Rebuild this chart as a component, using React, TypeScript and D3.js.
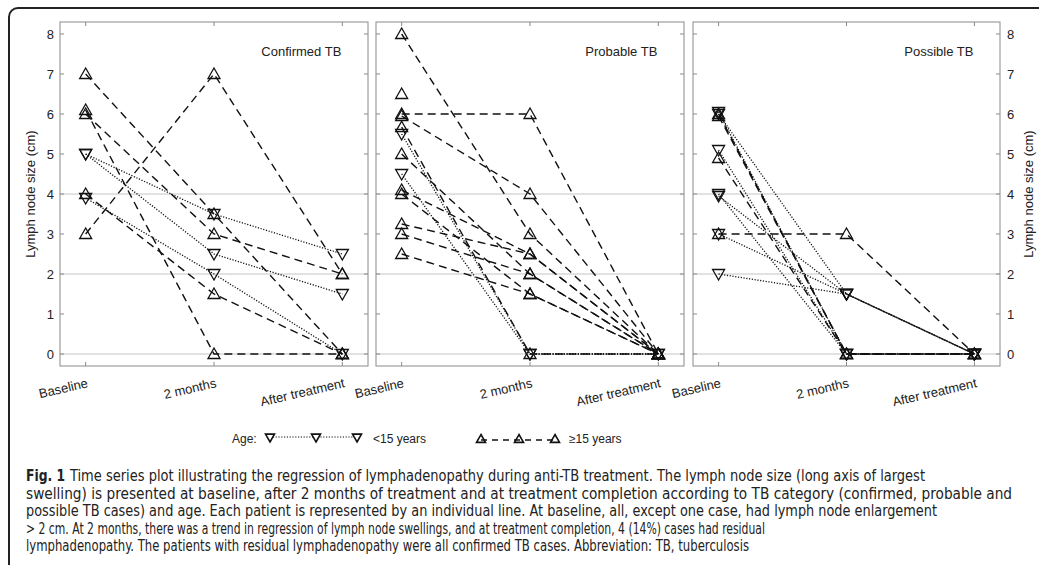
import React from "react";
import * as d3 from "d3";

// ---------- data ----------
const timepoints = ["Baseline", "2 months", "After treatment"];
const panelTitles = ["Confirmed TB", "Probable TB", "Possible TB"];
const yTicks = [0, 1, 2, 3, 4, 5, 6, 7, 8];
const gridValues = [0, 2, 4];

// each row = one patient: [baseline, 2 months, after treatment]
const confirmedValues: (number | null)[][] = [
  [3, 7, 2],
  [7, 3.5, 0],
  [6, 3, 2],
  [6.1, 0, 0],
  [5, 3.5, 2.5],
  [5, 2.5, 1.5],
  [4, 1.5, 0],
  [3.9, 2, 0],
];
const confirmedAge = [">=15", ">=15", ">=15", ">=15", "<15", "<15", ">=15", "<15"];

const probableValues: (number | null)[][] = [
  [8, 3, 0],
  [6.5, null, null],
  [6, 6, 0],
  [5.95, 4, 0],
  [5.67, 0, 0],
  [5.5, 0, 0],
  [5, 2, 0],
  [4.5, 0, 0],
  [4.1, 2.5, 0],
  [4, 1.5, 0],
  [3.25, 2.5, 0],
  [3, 2, 0],
  [2.5, 1.5, 0],
];
const probableAge = [">=15", ">=15", ">=15", ">=15", ">=15", "<15", ">=15", "<15", ">=15", ">=15", ">=15", ">=15", ">=15"];

const possibleValues: (number | null)[][] = [
  [6, 0, 0],
  [5.95, 0, 0],
  [4.9, 0, 0],
  [3, 3, 0],
  [6, 1.5, 0],
  [6.05, 0, 0],
  [5.1, 0, 0],
  [4, 0, 0],
  [3.95, 1.5, 0],
  [3, 1.5, 0],
  [2, 1.5, 0],
];
const possibleAge = [">=15", ">=15", ">=15", ">=15", "<15", "<15", "<15", "<15", "<15", "<15", "<15"];

const captionBold = "Fig. 1";
const captionLines = [
  "Time series plot illustrating the regression of lymphadenopathy during anti-TB treatment. The lymph node size (long axis of largest",
  "swelling) is presented at baseline, after 2 months of treatment and at treatment completion according to TB category (confirmed, probable and",
  "possible TB cases) and age. Each patient is represented by an individual line. At baseline, all, except one case, had lymph node enlargement",
  "> 2 cm. At 2 months, there was a trend in regression of lymph node swellings, and at treatment completion, 4 (14%) cases had residual",
  "lymphadenopathy. The patients with residual lymphadenopathy were all confirmed TB cases. Abbreviation: TB, tuberculosis",
];

// ---------- layout ----------
const W = 1039;
const H = 565;
const panelX: [number, number][] = [
  [60, 368],
  [376, 684],
  [693, 1000],
];
const plotTop = 22;
const plotBottom = 366;
const FONT = "'Liberation Sans', Arial, Helvetica, sans-serif";
const CAP_FONT = "'Liberation Sans Narrow', 'DejaVu Sans Condensed', 'Liberation Sans', sans-serif";
const INK = "#111";
const AXIS = "#8a8a8a";

const y = d3.scaleLinear().domain([-0.3, 8.3]).range([plotBottom, plotTop]);

const upTri = (cx: number, cy: number, s = 1) =>
  `M${cx},${cy - 6 * s}L${cx + 6 * s},${cy + 4.5 * s}L${cx - 6 * s},${cy + 4.5 * s}Z`;
const downTri = (cx: number, cy: number, s = 1) =>
  `M${cx},${cy + 6 * s}L${cx + 6 * s},${cy - 4.5 * s}L${cx - 6 * s},${cy - 4.5 * s}Z`;

const DASH = "8,5";
const DOT = "1.2,1.6";

function Panel({ idx, values, ages }: { idx: number; values: (number | null)[][]; ages: string[] }) {
  const [x0, x1] = panelX[idx];
  const x = d3.scaleLinear().domain([-0.2, 2.2]).range([x0, x1]);
  const line = d3
    .line<number | null>()
    .defined((d) => d !== null)
    .x((_, i) => x(i))
    .y((d) => y(d as number));
  return (
    <g>
      {gridValues.map((g) => (
        <line key={"g" + g} x1={x0} x2={x1} y1={y(g)} y2={y(g)} stroke="#c4c4c4" strokeWidth={1} />
      ))}
      <rect x={x0} y={plotTop} width={x1 - x0} height={plotBottom - plotTop} fill="none" stroke={AXIS} strokeWidth={1} />
      {yTicks.map((t) => (
        <g key={"t" + t}>
          <line x1={x0} x2={x0 + 4} y1={y(t)} y2={y(t)} stroke={AXIS} />
          <line x1={x1} x2={x1 - 4} y1={y(t)} y2={y(t)} stroke={AXIS} />
        </g>
      ))}
      {timepoints.map((tp, i) => (
        <g key={"x" + i}>
          <line x1={x(i)} x2={x(i)} y1={plotTop} y2={plotTop + 4} stroke={AXIS} />
          <line x1={x(i)} x2={x(i)} y1={plotBottom} y2={plotBottom - 4} stroke={AXIS} />
          <text
            transform={`translate(${x(i) + 3},${387}) rotate(-13)`}
            textAnchor="end"
            fontFamily={FONT}
            fontSize={13}
            fill="#222"
          >
            {tp}
          </text>
        </g>
      ))}
      {idx === 0 &&
        yTicks.map((t) => (
          <text key={"yl" + t} x={x0 - 6} y={y(t) + 4.5} textAnchor="end" fontFamily={FONT} fontSize={13} fill="#222">
            {t}
          </text>
        ))}
      {idx === 2 &&
        yTicks.map((t) => (
          <text key={"yr" + t} x={x1 + 7} y={y(t) + 4.5} textAnchor="start" fontFamily={FONT} fontSize={13} fill="#222">
            {t}
          </text>
        ))}
      <text x={x(2) - 1} y={56} textAnchor="end" fontFamily={FONT} fontSize={13} fill="#222">
        {panelTitles[idx]}
      </text>
      {values.map((v, p) => (
        <path
          key={"l" + p}
          d={line(v) || ""}
          fill="none"
          stroke={INK}
          strokeWidth={ages[p] === "<15" ? 1.3 : 1.4}
          strokeDasharray={ages[p] === "<15" ? DOT : DASH}
        />
      ))}
      {values.map((v, p) =>
        v.map((d, i) =>
          d === null ? null : (
            <path
              key={"m" + p + "-" + i}
              d={ages[p] === "<15" ? downTri(x(i), y(d)) : upTri(x(i), y(d))}
              fill="none"
              stroke={INK}
              strokeWidth={1.3}
            />
          )
        )
      )}
    </g>
  );
}

export default function App() {
  const captionEnds = [925, 1012, 937, 765, 749];
  const captionBase = [481, 498.5, 516, 533.5, 551];
  return (
    <svg width={W} height={H} style={{ position: "absolute", left: 0, top: 0, background: "#fff" }}>
      <rect x={9} y={8} width={1100} height={620} rx={9} fill="none" stroke="#222" strokeWidth={2} />
      <Panel idx={0} values={confirmedValues} ages={confirmedAge} />
      <Panel idx={1} values={probableValues} ages={probableAge} />
      <Panel idx={2} values={possibleValues} ages={possibleAge} />
      {/* y titles */}
      <text transform={`translate(35,${(plotTop + plotBottom) / 2}) rotate(-90)`} textAnchor="middle" fontFamily={FONT} fontSize={13} fill="#222">
        Lymph node size (cm)
      </text>
      <text transform={`translate(1033,${(plotTop + plotBottom) / 2}) rotate(-90)`} textAnchor="middle" fontFamily={FONT} fontSize={13} fill="#222">
        Lymph node size (cm)
      </text>
      {/* legend */}
      <g fontFamily={FONT} fontSize={12} fill="#222">
        <text x={232} y={443}>Age:</text>
        <line x1={270} x2={357} y1={437} y2={437} stroke={INK} strokeWidth={1.2} strokeDasharray={DOT} />
        {[270, 316, 357].map((cx) => (
          <path key={"ld" + cx} d={downTri(cx, 437.5, 0.75)} fill="#fff" stroke={INK} strokeWidth={1.6} />
        ))}
        <text x={373} y={443}>&lt;15 years</text>
        <line x1={481} x2={555} y1={440} y2={440} stroke={INK} strokeWidth={1.6} strokeDasharray="6,5" />
        {[481, 519, 555].map((cx) => (
          <path key={"lu" + cx} d={upTri(cx, 439, 0.75)} fill="none" stroke={INK} strokeWidth={1.6} />
        ))}
        <text x={569} y={443}>≥15 years</text>
      </g>
      {/* caption */}
      {captionLines.map((ln, i) => {
        const startX = i === 0 ? 70 : 26;
        return (
          <text
            key={"c" + i}
            x={startX}
            y={captionBase[i]}
            fontFamily={CAP_FONT}
            fontSize={15}
            fill="#222"
            textLength={captionEnds[i] - startX}
            lengthAdjust="spacingAndGlyphs"
          >
            {ln}
          </text>
        );
      })}
      <text
        x={26}
        y={captionBase[0]}
        fontFamily={CAP_FONT}
        fontSize={15}
        fontWeight="bold"
        fill="#222"
        textLength={39}
        lengthAdjust="spacingAndGlyphs"
      >
        {captionBold}
      </text>
    </svg>
  );
}
